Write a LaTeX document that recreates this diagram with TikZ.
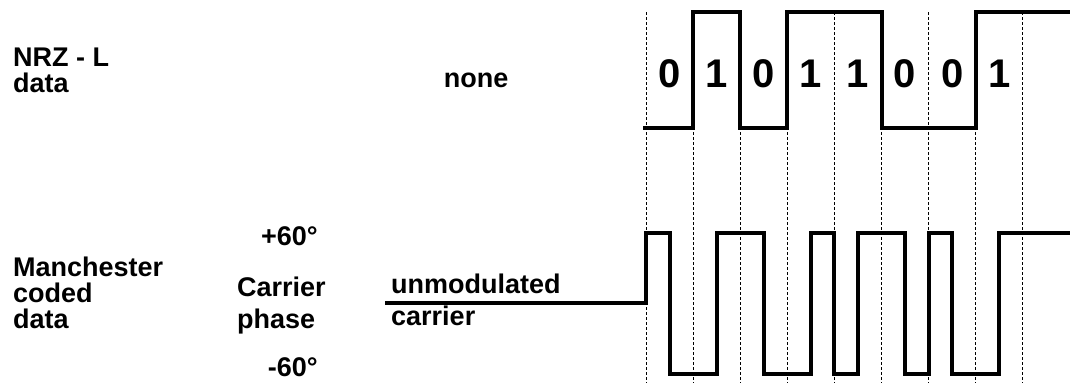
\documentclass[tikz,border=0pt]{standalone}
\usepackage{fontspec}
\setmainfont{Liberation Sans}
\begin{document}
\begin{tikzpicture}[x=1pt, y=-1pt,
		lbl/.style={inner sep=0pt, anchor=base west, align=left, font=\bfseries\fontsize{27}{26}\selectfont},
		bit/.style={inner sep=0pt, anchor=base, font=\bfseries\fontsize{40}{40}\selectfont},
		wave/.style={line width=4pt, line join=miter},
		cellline/.style={line width=1pt, dash pattern=on 3pt off 2pt}]
		\useasboundingbox (0,0) rectangle (1070,383);
		
		%bit cell borders
		\foreach \i in {0,...,8}{
			\draw[cellline] (646+47.1*\i, 12) -- (646+47.1*\i, 383);
		}
		
		%labels (anchored at the baseline of the last line)
		\node[lbl] (nrz) at (13, 92){NRZ - L\\data};
		\node[lbl, anchor=base] (none) at (476, 87){none};
		\node[lbl] (manch) at (13, 328){Manchester\\coded\\data};
		\node[lbl, font=\bfseries\fontsize{27}{32}\selectfont] (phase) at (237, 328){Carrier\\phase};
		\node[lbl, anchor=base east] (plus) at (318, 245){+60°};
		\node[lbl, anchor=base east] (minus) at (318, 376){-60°};
		\node[lbl, font=\bfseries\fontsize{27}{32}\selectfont] (unmod) at (391, 325){unmodulated\\carrier};
		
		%data bits
		\foreach \b [count=\i from 0] in {0,1,0,1,1,0,0,1}{
			\node[bit] (bit\i) at (669.55+47.1*\i, 87){\b};
		}
		
		%NRZ-L waveform
		\draw[wave] (643,128) -- (693.1,128) -- (693.1,12) -- (740.2,12) -- (740.2,128)
			-- (787.3,128) -- (787.3,12) -- (881.5,12) -- (881.5,128)
			-- (975.7,128) -- (975.7,12) -- (1070,12);
		
		%Manchester waveform
		\draw[wave] (385,303) -- (646,303) -- (646,233) -- (669.55,233) -- (669.55,374)
			-- (716.65,374) -- (716.65,233) -- (763.75,233) -- (763.75,374)
			-- (810.85,374) -- (810.85,233) -- (834.4,233) -- (834.4,374)
			-- (857.95,374) -- (857.95,233) -- (905.05,233) -- (905.05,374)
			-- (928.6,374) -- (928.6,233) -- (952.15,233) -- (952.15,374)
			-- (999.25,374) -- (999.25,233) -- (1070,233);
\end{tikzpicture}
\end{document}
